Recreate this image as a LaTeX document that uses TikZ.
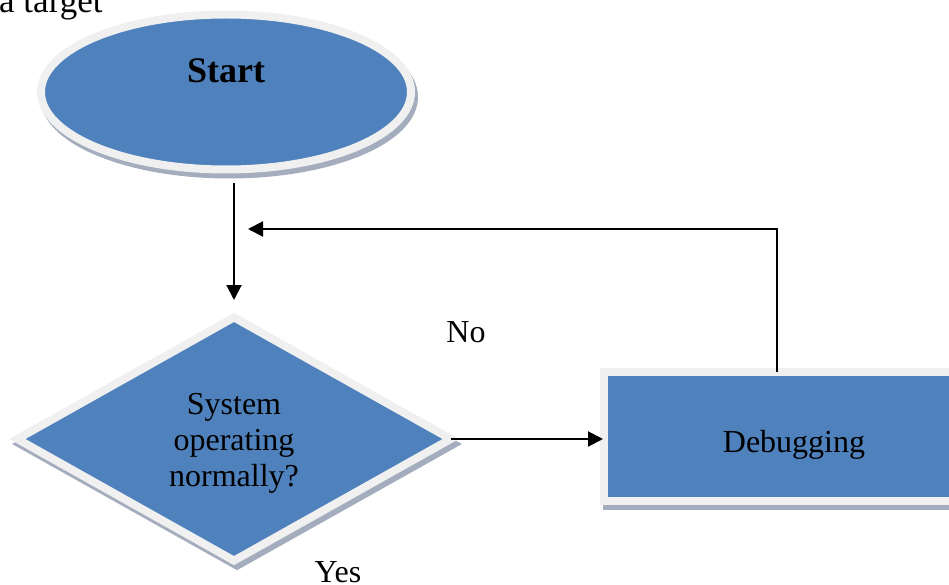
\documentclass[tikz,border=0pt]{standalone}
\usepackage{fontspec}
\setmainfont{Liberation Serif}
\usetikzlibrary{shapes.geometric,arrows.meta}
\definecolor{fillblue}{HTML}{4F81BD}
\definecolor{rimgray}{HTML}{F0F0F0}
\definecolor{shadowc}{HTML}{A3ADBD}
\tikzset{
  shape3d/.style={fill=fillblue, draw=rimgray, line width=8pt, inner sep=0pt, outer sep=0pt,
    preaction={draw=shadowc, fill=shadowc, line width=8pt, transform canvas={shift={(3pt,-5pt)}}}},
  txt/.style={font=\fontsize{32}{36}\selectfont, inner sep=0pt, align=center},
  arr/.style={line width=2pt, -{Triangle[length=15pt,width=15pt]}},
}
\begin{document}
\begin{tikzpicture}[x=1pt,y=-1pt]
\useasboundingbox (0,0) rectangle (949,585);
\clip (0,0) rectangle (949,585);
% top text
\node[font=\fontsize{35}{40}\selectfont, inner sep=0pt, anchor=base west] (cut) at (-1,13) {a target};
% shapes
\node[shape3d, ellipse, minimum width=370pt, minimum height=155pt] (start) at (226,92) {};
\node[font=\fontsize{36}{40}\selectfont\bfseries, inner sep=0pt, anchor=base] (starttxt) at (226,83) {Start};
\node[shape3d, diamond, minimum width=433.4pt, minimum height=243.2pt] (diam) at (234,439) {};
\node[txt] (diamtxt) at (234,443) {System\\operating\\normally?};
\node[shape3d, rectangle, minimum width=380pt, minimum height=129pt] (debug) at (794,436.5) {};
\node[txt, anchor=base] (debugtxt) at (794,452) {Debugging};
\node[txt, anchor=base] (no) at (466,342) {No};
\node[txt, anchor=base] (yes) at (338,582) {Yes};
\coordinate (ret) at (248,229);
% connectors
\draw[arr, shorten <=13.5pt, shorten >=17.4pt] (start.south -| diam.north) -- (diam.north);
\draw[arr, shorten >=1pt] (diam.east) -- (diam.east -| debug.west);
\draw[arr] ([xshift=-17pt]debug.north) |- (ret);
\end{tikzpicture}
\end{document}
